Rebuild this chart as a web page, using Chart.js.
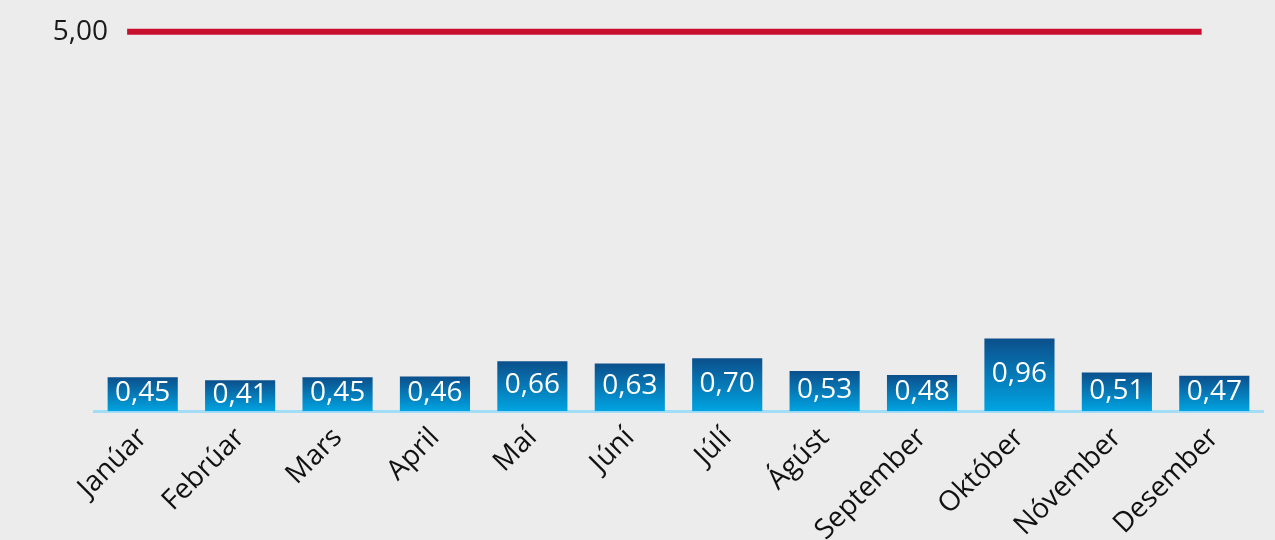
<!DOCTYPE html>
<html>
<head>
<meta charset="utf-8">
<script src="https://cdn.jsdelivr.net/npm/chart.js@4"></script>
<style>
    html, body { margin: 0; padding: 0; background: #ececec; overflow: hidden; }
    #wrap { width: 1275px; height: 540px; position: relative; }
</style>
</head>
<body>
<div id="wrap"><canvas id="barChart"></canvas></div>
<script>
/*** Data ***/
const months = ['Janúar', 'Febrúar', 'Mars', 'April', 'Maí', 'Júní', 'Júlí', 'Ágúst', 'September', 'Október', 'Nóvember', 'Desember'];
const monthValues = [0.45, 0.41, 0.45, 0.46, 0.66, 0.63, 0.70, 0.53, 0.48, 0.96, 0.51, 0.47];
const targetValue = 5.00;
const targetSpan = [-0.16, 10.87];

/*** Helpers ***/
const fmt = v => v.toFixed(2).replace('.', ',');
const fontFamily = '"Open Sans", Lato, sans-serif';

function barGradient(context) {
    const chart = context.chart;
    const area = chart.chartArea;
    if (!area || context.raw === undefined) return '#0a5a98';
    const y = chart.scales.y;
    const top = y.getPixelForValue(context.raw);
    const bottom = y.getPixelForValue(0);
    const g = chart.ctx.createLinearGradient(0, top, 0, bottom);
    g.addColorStop(0, '#0b4f8b');
    g.addColorStop(1, '#00a4e2');
    return g;
}

/*** Labels inside bars and target label ***/
const labelPlugin = {
    id: 'labelPlugin',
    afterDatasetsDraw(chart) {
        const ctx = chart.ctx;
        ctx.save();
        ctx.font = '28px ' + fontFamily;
        ctx.textBaseline = 'middle';

        const bars = chart.getDatasetMeta(0).data;
        ctx.fillStyle = '#ffffff';
        ctx.textAlign = 'center';
        bars.forEach((bar, i) => {
            ctx.fillText(fmt(monthValues[i]), bar.x, (bar.y + bar.base) / 2 - 1);
        });

        const line = chart.getDatasetMeta(1).data;
        ctx.fillStyle = '#1a1a1a';
        ctx.textAlign = 'right';
        ctx.fillText(fmt(targetValue), line[0].x - 19, line[0].y);
        ctx.restore();
    }
};

/*** Chart ***/
new Chart(document.getElementById('barChart'), {
    type: 'bar',
    data: {
        labels: months,
        datasets: [
            {
                type: 'bar',
                data: monthValues,
                backgroundColor: barGradient,
                barPercentage: 0.72,
                categoryPercentage: 1,
                grouped: false,
                order: 2
            },
            {
                type: 'line',
                data: targetSpan.map(x => ({ x: x, y: targetValue })),
                xAxisID: 'x2',
                borderColor: '#c8102e',
                borderWidth: 6,
                pointRadius: 0,
                borderCapStyle: 'butt',
                order: 1
            }
        ]
    },
    options: {
        responsive: true,
        maintainAspectRatio: false,
        animation: false,
        layout: {
            padding: { left: 94, right: 12, top: 9, bottom: -9 }
        },
        plugins: {
            legend: { display: false },
            tooltip: { enabled: false }
        },
        scales: {
            x: {
                offset: true,
                grid: { display: false },
                border: { display: true, color: '#a3dcf5', width: 3 },
                ticks: {
                    color: '#111111',
                    font: { family: fontFamily, size: 28 },
                    minRotation: 45,
                    maxRotation: 45,
                    padding: 2
                }
            },
            x2: {
                type: 'linear',
                display: false,
                offset: false,
                min: -0.5,
                max: months.length - 0.5
            },
            y: {
                display: false,
                min: 0,
                max: 5.3
            }
        }
    },
    plugins: [labelPlugin]
});
</script>
</body>
</html>
